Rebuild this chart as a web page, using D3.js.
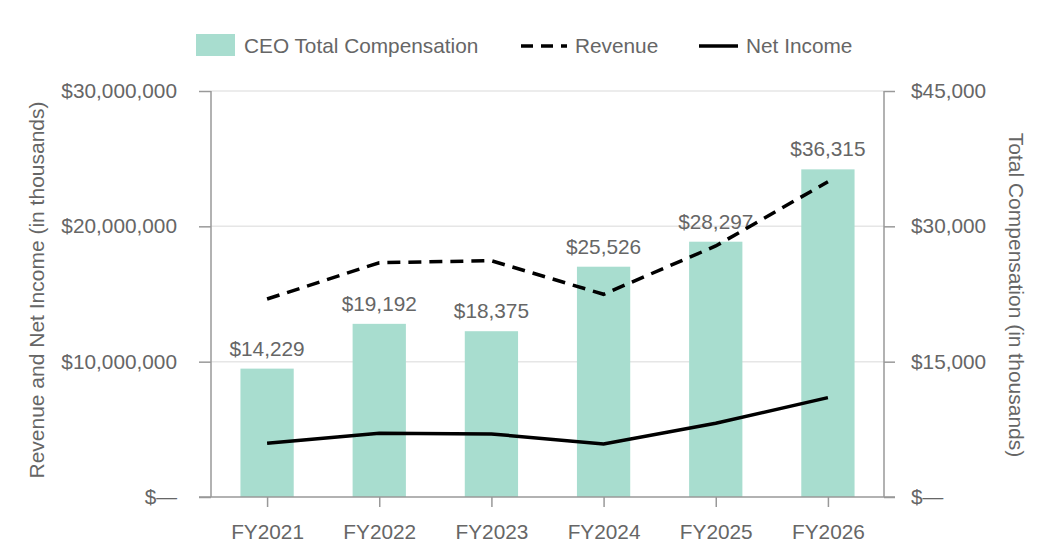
<!DOCTYPE html>
<html><head><meta charset="utf-8">
<script src="https://cdn.jsdelivr.net/npm/d3@7"></script>
<style>
body{margin:0;background:#fff;}
svg text{font-family:"Liberation Sans",Arial,sans-serif;fill:#666;}
</style></head>
<body>
<svg id="c" width="1056" height="556"></svg>
<script>
const categories = ["FY2021","FY2022","FY2023","FY2024","FY2025","FY2026"];
const compensation = [14229,19192,18375,25526,28297,36315];
const revenue = [14630000,17310000,17460000,14980000,18550000,23300000];
const netIncome = [3970000,4710000,4660000,3920000,5450000,7340000];
const leftTicks = [0,10000000,20000000,30000000];
const rightTicks = [0,15000,30000,45000];

const svg = d3.select("#c");
const L = 211, R = 884, T = 91, B = 497;
const fs = "20.8px";
const textCol = "#666", axisCol = "#999";

const x = d3.scalePoint().domain(categories).range([L,R]).padding(0.5);
const yL = d3.scaleLinear().domain([0,30000000]).range([B,T]);
const yR = d3.scaleLinear().domain([0,45000]).range([B,T]);
const barW = x.step()*0.475;

const fmtL = v => v===0 ? "$\u2014" : "$" + d3.format(",")(v);
const fmtR = v => v===0 ? "$\u2014" : "$" + d3.format(",")(v);

// gridlines
svg.append("g").selectAll("line").data(leftTicks.filter(d=>d>0)).join("line")
  .attr("x1",L).attr("x2",R).attr("y1",d=>yL(d)).attr("y2",d=>yL(d))
  .attr("stroke","#e6e6e6").attr("stroke-width",1.5);

// bars
svg.append("g").selectAll("rect").data(compensation).join("rect")
  .attr("x",(d,i)=>x(categories[i])-barW/2).attr("width",barW)
  .attr("y",d=>yR(d)).attr("height",d=>B-yR(d))
  .attr("fill","#a8ddcf");

// bar labels
svg.append("g").selectAll("text").data(compensation).join("text")
  .attr("x",(d,i)=>x(categories[i])).attr("y",d=>yR(d)-13)
  .attr("text-anchor","middle").style("font-size",fs)
  .text(d=>"$"+d3.format(",")(d));

// axes
const gL = svg.append("g").attr("transform",`translate(${L},0)`)
  .call(d3.axisLeft(yL).tickValues(leftTicks).tickFormat(fmtL).tickSize(12).tickPadding(22));
const gR = svg.append("g").attr("transform",`translate(${R},0)`)
  .call(d3.axisRight(yR).tickValues(rightTicks).tickFormat(fmtR).tickSize(11).tickPadding(16));
const gB = svg.append("g").attr("transform",`translate(0,${B})`)
  .call(d3.axisBottom(x).tickSize(10).tickPadding(12).tickSizeOuter(0));
[gL,gR,gB].forEach(g=>{
  g.select(".domain").attr("stroke",axisCol).attr("stroke-width",1.5);
  g.selectAll(".tick line").attr("stroke",axisCol).attr("stroke-width",1.5);
  g.selectAll(".tick text").attr("fill",textCol).style("font-size",fs)
   .style("font-family",'"Liberation Sans",Arial,sans-serif');
});
gL.select(".domain").attr("d",`M0,${T}V${B}`);
gR.select(".domain").attr("d",`M0,${T}V${B}`);
gB.select(".domain").attr("d",`M${L-12},0H${R+11}`);
gB.selectAll(".tick text").attr("dy","0.95em");

// lines
const line = d3.line().x((d,i)=>x(categories[i])).y(d=>yL(d));
svg.append("path").datum(revenue).attr("d",line).attr("fill","none")
  .attr("stroke","#000").attr("stroke-width",3.5).attr("stroke-dasharray","13,8");
svg.append("path").datum(netIncome).attr("d",line).attr("fill","none")
  .attr("stroke","#000").attr("stroke-width",3.5);

// axis titles
svg.append("text").attr("transform",`translate(44,290) rotate(-90)`)
  .attr("text-anchor","middle").style("font-size","21px")
  .text("Revenue and Net Income (in thousands)");
svg.append("text").attr("transform",`translate(1009,295) rotate(90)`)
  .attr("text-anchor","middle").style("font-size","21px")
  .text("Total Compensation (in thousands)");

// legend
const lg = svg.append("g");
lg.append("rect").attr("x",196).attr("y",34).attr("width",39).attr("height",22).attr("fill","#a8ddcf");
lg.append("text").attr("x",244).attr("y",53).style("font-size",fs).text("CEO Total Compensation");
lg.append("line").attr("x1",521).attr("x2",567).attr("y1",46).attr("y2",46)
  .attr("stroke","#000").attr("stroke-width",3.5).attr("stroke-dasharray","12,8");
lg.append("text").attr("x",575).attr("y",53).style("font-size",fs).text("Revenue");
lg.append("line").attr("x1",699).attr("x2",738).attr("y1",46).attr("y2",46)
  .attr("stroke","#000").attr("stroke-width",3.5);
lg.append("text").attr("x",746).attr("y",53).style("font-size",fs).text("Net Income");
</script>
</body></html>
